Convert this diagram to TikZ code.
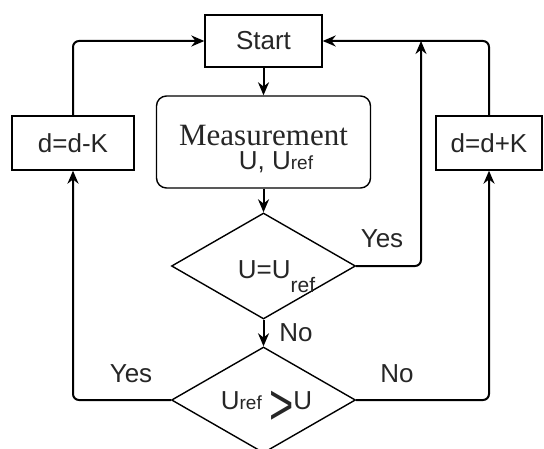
\documentclass[tikz,border=0pt]{standalone}
\usepackage{fontspec}
\setmainfont{Liberation Sans}
\newfontfamily\measfont{Liberation Serif}
\usetikzlibrary{shapes.geometric,arrows.meta}
\newcommand{\subref}[1]{{\fontsize{9.5}{10}\selectfont #1}}

\begin{document}
\begin{tikzpicture}[x=0.5pt, y=-0.5pt, font=\fontsize{13}{15}\selectfont, text=black!85,
    block/.style={draw, line width=0.7pt, inner sep=0pt},
    test/.style={draw, shape=diamond, aspect=1.74, minimum width=92pt, minimum height=53pt, inner sep=0pt, line width=0.7pt},
    flow/.style={line width=1pt, rounded corners=3pt, -{Stealth[length=6.5pt,width=5.5pt]}}]
    \useasboundingbox (0,0) rectangle (544,448);

    % blocks
    \node[block, minimum width=58.5pt, minimum height=26pt] (start) at (263.5,41) {Start};
    \node[block, rounded corners=5pt, minimum width=107pt, minimum height=46pt, align=center,
        text height=28pt, text depth=0pt] (meas) at (263.5,142)
        {{\measfont\fontsize{15.5}{15.5}\selectfont Measurement}\\[-3pt]\hspace*{12.5pt}U, U\subref{ref}};
    \node[block, minimum width=61pt, minimum height=27pt] (minus) at (73,143) {d=d-K};
    \node[block, minimum width=53pt, minimum height=27pt] (plus) at (489,143) {d=d+K};

    % decisions
    \node[test] (eq) at (263.5,266) {};
    \node[test] (gt) at (263.5,400) {};
    \node[anchor=base] (eqtext) at (276.5,278.5)
        {U=U\raisebox{-7pt}{\fontsize{10.5}{11}\selectfont ref}};
    \node[anchor=base] (gttext) at (266.5,409)
        {U\subref{ref} \raisebox{-7.5pt}{\scalebox{0.8}[1.1]{\fontsize{26}{26}\selectfont >}}U};

    \node (yesup) at (382,239) {Yes};
    \node (nomid) at (296,333) {No};
    \node (yeslow) at (131,374) {Yes};
    \node (nolow) at (397,374) {No};

    % connectors
    \coordinate (join) at (421,41);
    \draw[flow] (start) -- (meas);
    \draw[flow] (meas) -- (eq);
    \draw[flow] (eq) -- (gt);
    \draw[flow] (eq.east) -| (join);
    \draw[flow] (gt.west) -| (minus.south);
    \draw[flow] (gt.east) -| (plus.south);
    \draw[flow] (minus.north) |- (start.west);
    \draw[flow] (plus.north) |- (start.east);
\end{tikzpicture}
\end{document}
